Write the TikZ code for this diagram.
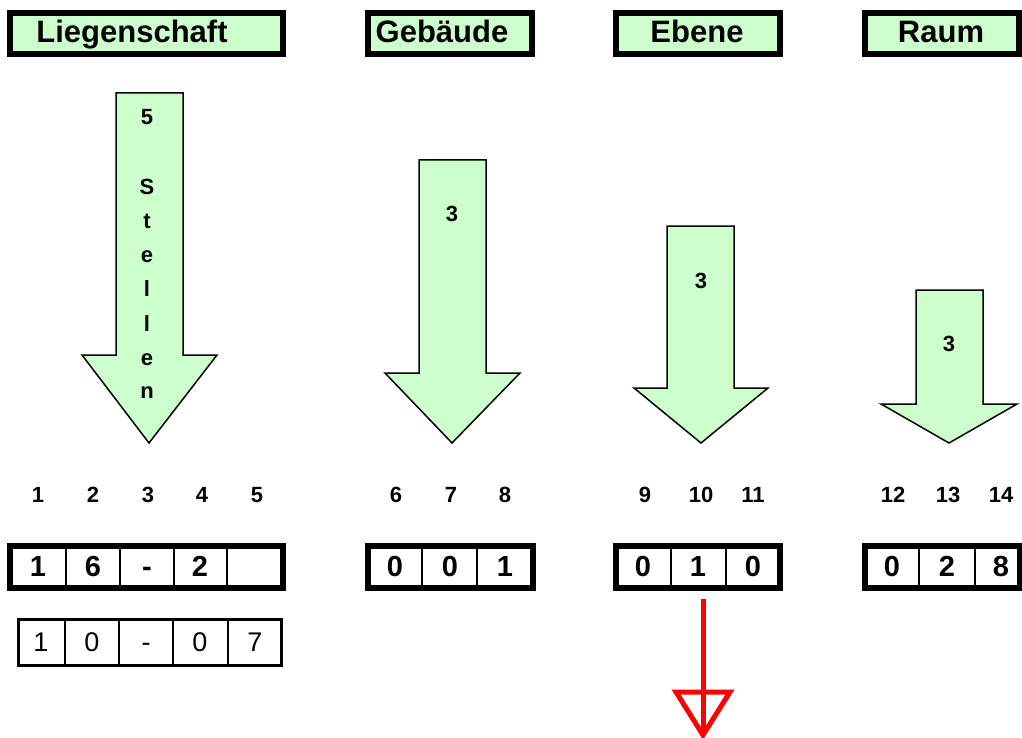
\documentclass[tikz,border=0pt]{standalone}
\usepackage{fontspec}
\setmainfont{Liberation Sans}
\definecolor{lightgreen}{HTML}{CCFFCC}
\definecolor{redline}{HTML}{FF0000}
\tikzset{
  header/.style={draw=black, line width=6pt, fill=lightgreen},
  headtext/.style={font=\fontsize{31}{36}\selectfont\bfseries, inner sep=0pt, anchor=base},
  cellrow/.style={draw=black, line width=6pt, fill=white},
  cellrowthin/.style={draw=black, line width=3pt, fill=white},
  divider/.style={draw=black, line width=2pt},
  dividerthin/.style={draw=black, line width=1.5pt},
  celltext/.style={font=\fontsize{29}{34}\selectfont\bfseries, inner sep=0pt, anchor=base},
  cellthintext/.style={font=\fontsize{27}{32}\selectfont, inner sep=0pt, anchor=base},
  numtext/.style={font=\fontsize{22}{26}\selectfont\bfseries, inner sep=0pt, anchor=base},
  arrowtext/.style={font=\fontsize{22}{26}\selectfont\bfseries, inner sep=0pt, anchor=base},
  blockarrow/.style={draw=black, line width=1.5pt, fill=lightgreen, line join=miter},
  redarrow/.style={draw=redline, line width=5pt}
}
\begin{document}
\begin{tikzpicture}[x=1pt,y=-1pt]
\useasboundingbox (0,0) rectangle (1022,738);

% headers
\draw[header] (10,13) rectangle (283,54);
\node[headtext] (hL) at (132,43) {Liegenschaft};
\draw[header] (368,13) rectangle (532,54);
\node[headtext] (hG) at (442,43) {Gebäude};
\draw[header] (616,13) rectangle (780,54);
\node[headtext] (hE) at (697,43) {Ebene};
\draw[header] (865,13) rectangle (1019,54);
\node[headtext] (hR) at (941,43) {Raum};

% block arrows
\draw[blockarrow] (116,93) -- (183,93) -- (183,355) -- (217,355) -- (149,443) -- (82,355) -- (116,355) -- cycle;
\draw[blockarrow] (419,160) -- (486,160) -- (486,373) -- (520,373) -- (452,443) -- (385,373) -- (419,373) -- cycle;
\draw[blockarrow] (667,226) -- (734,226) -- (734,388) -- (768,388) -- (701,443) -- (634,388) -- (667,388) -- cycle;
\draw[blockarrow] (916,290) -- (983,290) -- (983,404) -- (1017,404) -- (949,443) -- (881,404) -- (916,404) -- cycle;

% arrow texts (baselines)
\node[arrowtext] (a5) at (147,125) {5};
\node[arrowtext] (aS) at (147,194) {S};
\node[arrowtext] (at) at (147,228) {t};
\node[arrowtext] (ae1) at (147,262) {e};
\node[arrowtext] (al1) at (147,296) {l};
\node[arrowtext] (al2) at (147,331) {l};
\node[arrowtext] (ae2) at (147,365) {e};
\node[arrowtext] (an) at (147,398) {n};
\node[arrowtext] (aG) at (452,222) {3};
\node[arrowtext] (aE) at (701,288) {3};
\node[arrowtext] (aR) at (949,351) {3};

% position numbers
\foreach \n/\x in {1/38,2/93,3/148,4/202,5/257,6/396,7/451,8/505,9/645,10/701,11/753,12/893,13/948,14/1001}
  \node[numtext] (n\n) at (\x,502) {\n};

% cell rows
\draw[cellrow] (10,546) rectangle (283,588);
\foreach \x in {66,120,174,227} \draw[divider] (\x,549) -- (\x,585);
\foreach \t/\x/\k in {1/38/a,6/93/b,-/147/c,2/200/d}
  \node[celltext] (cL\k) at (\x,576) {\t};

\draw[cellrow] (368,546) rectangle (533,588);
\foreach \x in {422,477} \draw[divider] (\x,549) -- (\x,585);
\foreach \t/\x/\k in {0/395/a,0/450/b,1/505/c}
  \node[celltext] (cG\k) at (\x,576) {\t};

\draw[cellrow] (616,546) rectangle (780,588);
\foreach \x in {671,726} \draw[divider] (\x,549) -- (\x,585);
\foreach \t/\x/\k in {0/643/a,1/698/b,0/753/c}
  \node[celltext] (cE\k) at (\x,576) {\t};
\coordinate (Ebot) at (703,599);

\draw[cellrow] (865,546) rectangle (1020,588);
\foreach \x in {919,975} \draw[divider] (\x,549) -- (\x,585);
\foreach \t/\x/\k in {0/892/a,2/947/b,8/1001/c}
  \node[celltext] (cR\k) at (\x,576) {\t};

% second row
\draw[cellrowthin] (18.5,619.5) rectangle (281.5,665.5);
\foreach \x in {65,119,173,228} \draw[dividerthin] (\x,621) -- (\x,664);
\foreach \t/\x/\k in {1/41/a,0/92/b,-/146/c,0/200/d,7/255/e}
  \node[cellthintext] (cS\k) at (\x,651) {\t};

% red arrow
\coordinate (redtip) at (703,735);
\draw[redarrow] (Ebot) -- (redtip);
\draw[redarrow, line join=miter] ([xshift=-27pt,yshift=43pt]redtip) -- ([xshift=27pt,yshift=43pt]redtip) -- (redtip) -- cycle;
\end{tikzpicture}
\end{document}
